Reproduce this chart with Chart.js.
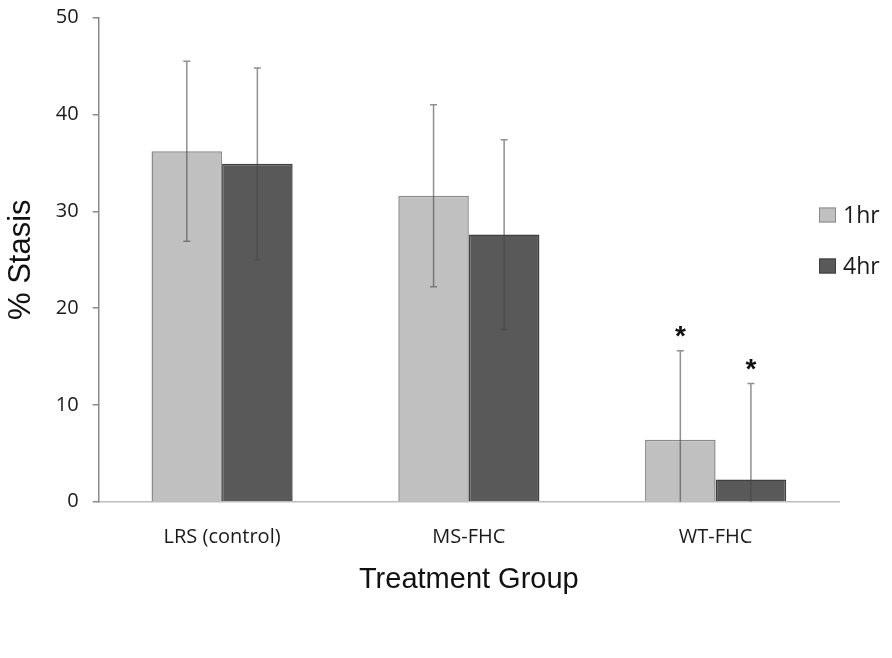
<!DOCTYPE html>
<html>
<head>
<meta charset="utf-8">
<script src="https://cdn.jsdelivr.net/npm/chart.js@4.4.1/dist/chart.umd.min.js"></script>
<style>
  html, body { margin: 0; padding: 0; background: #ffffff; }
  #wrap { width: 892px; height: 658px; position: relative; }
</style>
</head>
<body>
<div id="wrap"><canvas id="c" width="892" height="658"></canvas></div>
<script>
// ---- Data ----
const categories = ['LRS (control)', 'MS-FHC', 'WT-FHC'];
const seriesLabels = ['1hr', '4hr'];
const values1hr = [36.2, 31.6, 6.4];
const values4hr = [34.9, 27.6, 2.3];
const errors1hr = [9.3, 9.4, 9.2];
const errors4hr = [9.9, 9.8, 9.9];
const significant1hr = [false, false, true];
const significant4hr = [false, false, true];
const yTicks = [0, 10, 20, 30, 40, 50];
const yTitle = '% Stasis';
const xTitle = 'Treatment Group';

const errorBarPlugin = {
  id: 'errorBars',
  afterDatasetsDraw(chart) {
    const ctx = chart.ctx;
    const y = chart.scales.y;
    chart.data.datasets.forEach((ds, di) => {
      const meta = chart.getDatasetMeta(di);
      meta.data.forEach((bar, i) => {
        const v = ds.data[i], e = ds.errors[i];
        const yTop = y.getPixelForValue(v + e);
        const yBot = y.getPixelForValue(Math.max(0, v - e));
        const x = bar.x;
        ctx.save();
        ctx.strokeStyle = 'rgba(70,70,70,0.6)';
        ctx.lineWidth = 1.5;
        ctx.beginPath();
        ctx.moveTo(x, yTop); ctx.lineTo(x, yBot);
        ctx.moveTo(x - 3.5, yTop); ctx.lineTo(x + 3.5, yTop);
        if (v - e > 0) { ctx.moveTo(x - 3.5, yBot); ctx.lineTo(x + 3.5, yBot); }
        ctx.stroke();
        if (ds.significant[i]) {
          ctx.fillStyle = '#111';
          ctx.font = 'bold 28px "Liberation Sans", Arial, sans-serif';
          ctx.textAlign = 'center';
          ctx.textBaseline = 'middle';
          ctx.fillText('*', x, yTop - 13);
        }
        ctx.restore();
      });
    });
  }
};

const legendPlugin = {
  id: 'customLegend',
  afterDraw(chart) {
    const ctx = chart.ctx;
    const x0 = 819, ys = [215, 266];
    chart.data.datasets.forEach((ds, di) => {
      ctx.save();
      ctx.fillStyle = ds.backgroundColor;
      ctx.strokeStyle = ds.borderColor;
      ctx.lineWidth = 1;
      ctx.fillRect(x0, ys[di] - 7.5, 17, 15);
      ctx.strokeRect(x0 + 0.5, ys[di] - 7, 16, 14);
      ctx.fillStyle = '#1a1a1a';
      ctx.font = '23px "Open Sans", sans-serif';
      ctx.textAlign = 'left';
      ctx.textBaseline = 'middle';
      ctx.fillText(ds.label, 843, ys[di] + 1);
      ctx.restore();
    });
  }
};

new Chart(document.getElementById('c'), {
  type: 'bar',
  data: {
    labels: categories,
    datasets: [
      { label: seriesLabels[0], data: values1hr, errors: errors1hr, significant: significant1hr,
        backgroundColor: '#c0c0c0', borderColor: '#8a8a8a', borderWidth: 1.5 },
      { label: seriesLabels[1], data: values4hr, errors: errors4hr, significant: significant4hr,
        backgroundColor: '#595959', borderColor: '#3e3e3e', borderWidth: 1.5 }
    ]
  },
  options: {
    responsive: false,
    animation: false,
    devicePixelRatio: 1,
    layout: { padding: { top: 17.7, right: 53, left: 0, bottom: 0 } },
    datasets: { bar: { barPercentage: 1.0, categoryPercentage: 0.572 } },
    plugins: { legend: { display: false }, tooltip: { enabled: false } },
    scales: {
      x: {
        grid: { display: false },
        border: { display: true, color: '#bdbdbd', width: 1.5 },
        ticks: { color: '#1a1a1a', font: { family: '"Open Sans", sans-serif', size: 20 }, padding: 16 },
        title: { display: true, text: xTitle, color: '#111',
                 font: { family: '"Liberation Sans", Arial, sans-serif', size: 29 },
                 padding: { top: 0, bottom: 61 } },
        afterFit(scale) { scale.height = 156.3; scale.paddingLeft = 0; scale.paddingRight = 0; }
      },
      y: {
        min: 0, max: 50,
        afterBuildTicks(scale) { scale.ticks = yTicks.map(v => ({ value: v })); },
        grid: { drawOnChartArea: false, drawTicks: true, tickLength: 6, color: '#8a8a8a', lineWidth: 1.5 },
        border: { display: true, color: '#8a8a8a', width: 1.5 },
        ticks: { color: '#1a1a1a', font: { family: '"Open Sans", sans-serif', size: 20 }, padding: 14 },
        title: { display: true, text: yTitle, color: '#111',
                 font: { family: '"Liberation Sans", Arial, sans-serif', size: 31 },
                 padding: { top: 3, bottom: 0 } },
        afterFit(scale) { scale.width = 98.7; scale.paddingTop = 0; scale.paddingBottom = 0; }
      }
    }
  },
  plugins: [errorBarPlugin, legendPlugin]
});
</script>
</body>
</html>
